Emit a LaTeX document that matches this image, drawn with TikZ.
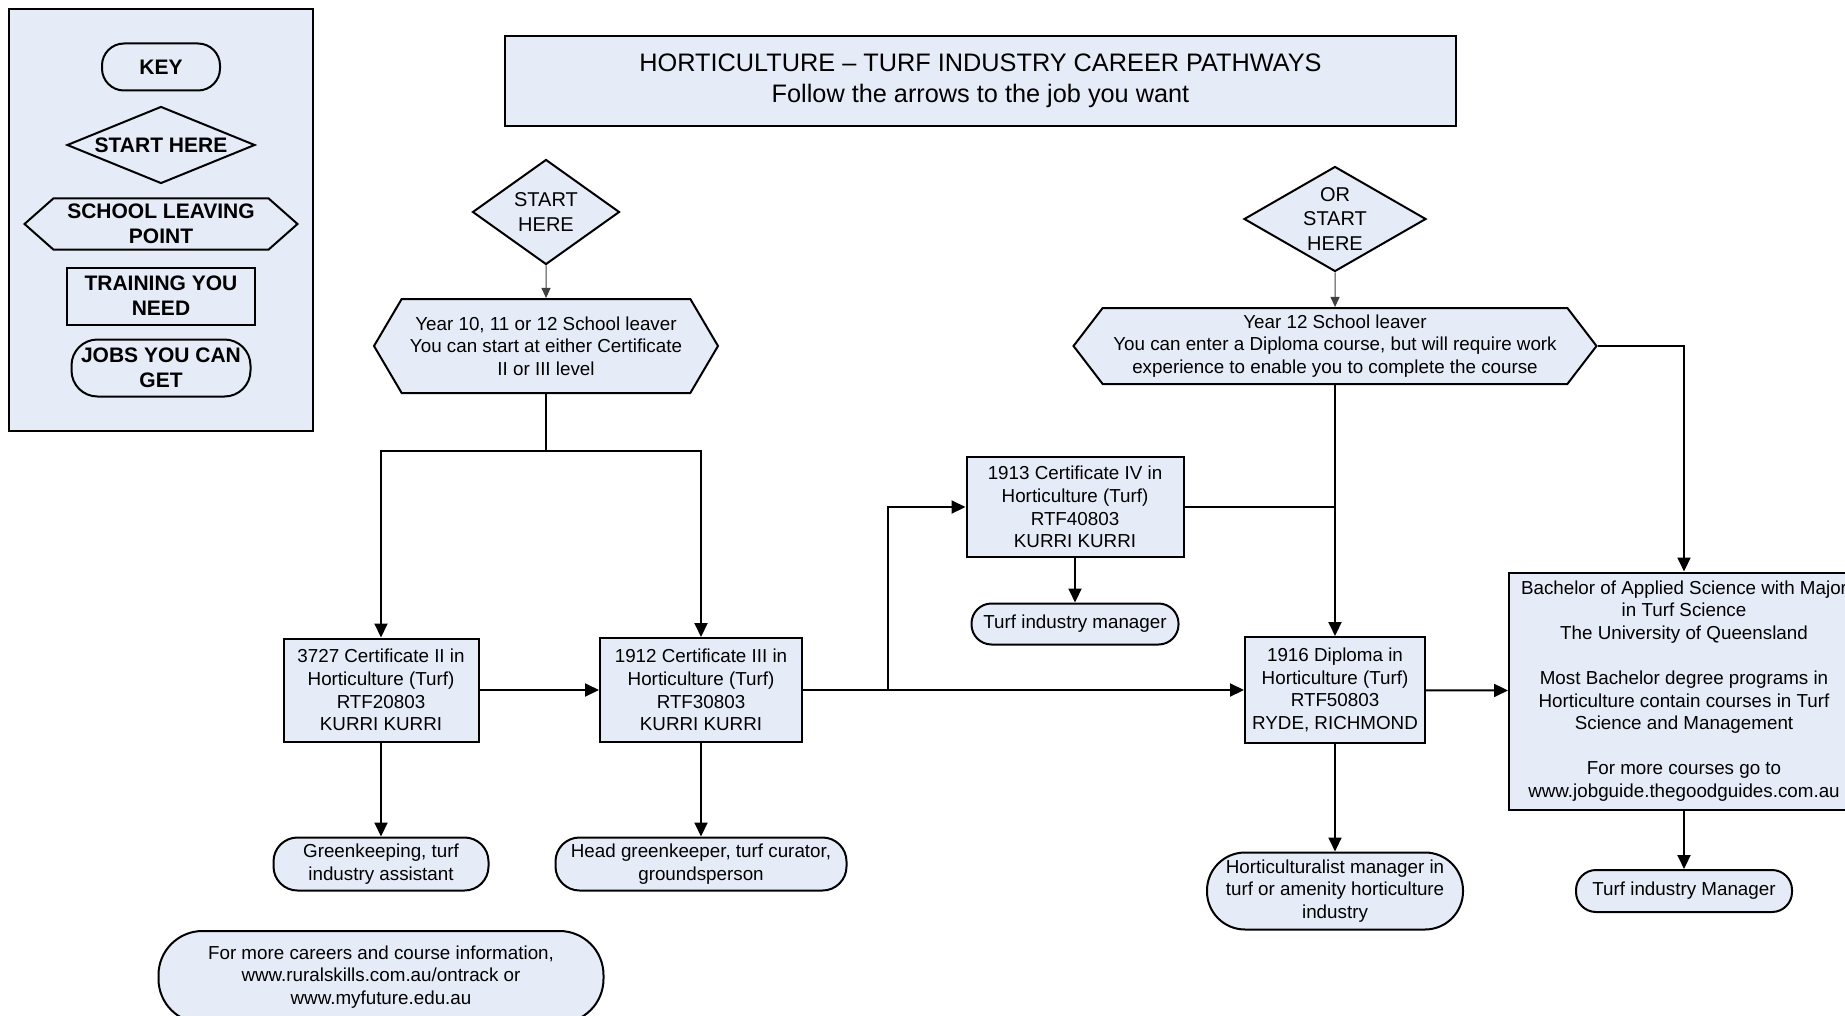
\documentclass[tikz,border=0pt]{standalone}
\usepackage{fontspec}
\setmainfont{Liberation Sans}
\usetikzlibrary{arrows.meta,shapes.geometric,shapes.symbols}
\definecolor{PaleBlue}{RGB}{230,236,247}

\begin{document}
\begin{tikzpicture}[x=0.5pt,y=-0.5pt,
    base/.style={draw,line width=1pt,fill=PaleBlue,align=center,inner sep=0pt,
      font=\fontsize{9.4}{11.3}\selectfont},
    course/.style={base,rectangle},
    job/.style={base,rectangle,rounded corners=#1},
    job/.default=12pt,
    startdia/.style={base,diamond,aspect=#1,font=\fontsize{10}{12.4}\selectfont},
    leaver/.style={base,signal,signal to=east and west,signal pointer angle=#1},
    keyfont/.style={font=\fontsize{10.5}{12.4}\selectfont\bfseries},
    link/.style={line width=1pt,-{Triangle[length=7pt,width=6.5pt]}},
    thinlink/.style={line width=0.5pt,black!75,-{Triangle[length=5pt,width=4.5pt]}}]
  \useasboundingbox (0,0) rectangle (1845,1016);

  % key
  \node[base,minimum width=152pt,minimum height=211pt,line width=1.2pt] (keyframe) at (161,220) {};
  \node[job=11pt,keyfont,minimum width=59pt,minimum height=23.5pt] (keytitle) at (161,67) {KEY};
  \node[startdia=2.44,keyfont,minimum width=94pt,minimum height=38.5pt] (keystart) at (161,145) {START HERE};
  \node[leaver=83,keyfont,minimum width=136.5pt,minimum height=25.5pt] (keyleave) at (161,224) {SCHOOL LEAVING\\POINT};
  \node[course,keyfont,minimum width=94pt,minimum height=28.5pt] (keytrain) at (161,296) {TRAINING YOU\\NEED};
  \node[job=13pt,keyfont,minimum width=89.5pt,minimum height=28.5pt] (keyjobs) at (161,368) {JOBS YOU CAN\\GET};

  \node[course,minimum width=475.5pt,minimum height=45pt,font=\fontsize{12.65}{15.3}\selectfont] (title) at (980.5,81)
    {HORTICULTURE -- TURF INDUSTRY CAREER PATHWAYS\\Follow the arrows to the job you want};

  % left pathway
  \node[startdia=1.4,minimum width=73.5pt,minimum height=52.5pt] (start1) at (546,212) {START\\HERE};
  \node[leaver=119,minimum width=172pt,minimum height=47pt] (leave1) at (546,346)
    {Year 10, 11 or 12 School leaver\\You can start at either Certificate\\II or III level};
  \coordinate (split) at (546,451);
  \node[course,minimum width=97.5pt,minimum height=51.5pt] (cert2) at (381,690)
    {3727 Certificate II in\\Horticulture (Turf)\\RTF20803\\KURRI KURRI};
  \node[course,minimum width=101pt,minimum height=52pt] (cert3) at (701,690)
    {1912 Certificate III in\\Horticulture (Turf)\\RTF30803\\KURRI KURRI};
  \node[job,minimum width=107.5pt,minimum height=26.5pt] (job2) at (381,864) {Greenkeeping, turf\\industry assistant};
  \node[job,minimum width=145.5pt,minimum height=26.5pt] (job3) at (701,864) {Head greenkeeper, turf curator,\\groundsperson};
  \node[job=22pt,minimum width=222.5pt,minimum height=46pt] (info) at (381,977)
    {For more careers and course information,\\www.ruralskills.com.au/ontrack or\\www.myfuture.edu.au};

  % middle and right pathway
  \node[course,minimum width=108.5pt,minimum height=50pt] (cert4) at (1075,507)
    {1913 Certificate IV in\\Horticulture (Turf)\\RTF40803\\KURRI KURRI};
  \node[job=10pt,minimum width=103.5pt,minimum height=20.5pt] (job4) at (1075,624) {Turf industry manager};
  \node[startdia=1.73,inner sep=-4pt,minimum width=91pt,minimum height=52.5pt] (start2) at (1335,219) {OR\\START\\HERE};
  \node[leaver=105,minimum width=261.5pt,minimum height=38pt] (leave2) at (1335,346)
    {Year 12 School leaver\\You can enter a Diploma course, but will require work\\experience to enable you to complete the course};
  \node[course,minimum width=90pt,minimum height=53pt] (dip) at (1335,690)
    {1916 Diploma in\\Horticulture (Turf)\\RTF50803\\RYDE, RICHMOND};
  \node[job=19pt,minimum width=128pt,minimum height=38.5pt] (jobdip) at (1335,891)
    {Horticulturalist manager in\\turf or amenity horticulture\\industry};
  \node[course,minimum width=175pt,minimum height=118.5pt] (bach) at (1684,691)
    {Bachelor of Applied Science with Major\\in Turf Science\\The University of Queensland\\[11.3pt]
     Most Bachelor degree programs in\\Horticulture contain courses in Turf\\Science and Management\\[11.3pt]
     For more courses go to\\www.jobguide.thegoodguides.com.au};
  \node[job=10pt,minimum width=108pt,minimum height=21pt] (jobbach) at (1684,891) {Turf industry Manager};

  % connectors
  \draw[thinlink] (start1) -- (leave1);
  \draw[line width=1pt] (leave1.south) -- (split);
  \draw[link] (split) -| (cert2.north);
  \draw[link] (split) -| (cert3.north);
  \draw[link] (cert2) -- (cert3);
  \draw[link] (cert2) -- (job2);
  \draw[link] (cert3) -- (job3);
  \draw[link] (cert3.east) -- (888,690) |- (cert4.west);
  \draw[link] (cert3) -- (dip);
  \draw[link] (cert4) -- (job4);
  \draw[line width=1pt] (cert4.east) -- (cert4.east -| dip.north);
  \draw[thinlink] (start2) -- (leave2);
  \draw[link] (leave2.south) -- (dip.north);
  \draw[link] (leave2.east) -| (bach.north);
  \draw[link] (dip) -- (bach);
  \draw[link] (dip) -- (jobdip);
  \draw[link] (bach) -- (jobbach);
\end{tikzpicture}
\end{document}
